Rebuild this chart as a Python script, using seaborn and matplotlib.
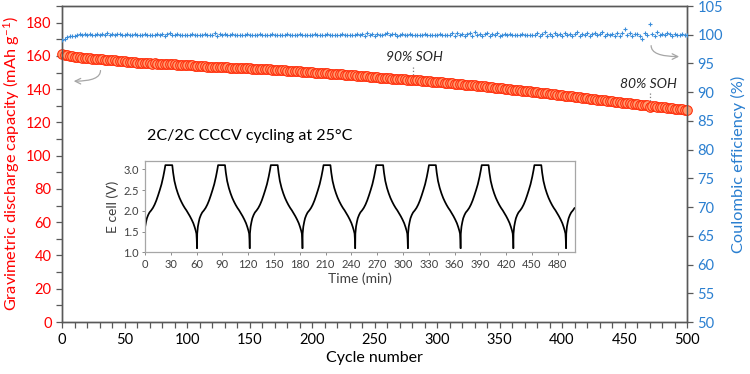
import matplotlib
matplotlib.use("Agg")
import matplotlib.pyplot as plt
from matplotlib.ticker import MultipleLocator, FormatStrFormatter
import seaborn as sns
import pandas as pd

# ---------------- data ----------------
cycles = list(range(0, 501, 2))

capacity = [
    161.0, 160.6, 160.3, 160.0, 159.8, 159.6, 159.3, 159.1, 158.9, 158.8,
    158.6, 158.5, 158.3, 158.2, 158.1, 158.0, 157.9, 157.7, 157.6, 157.5,
    157.4, 157.6, 157.2, 157.0, 156.8, 156.9, 156.5, 156.4, 156.2, 156.1,
    156.0, 155.9, 155.9, 155.7, 155.6, 155.6, 155.4, 155.5, 155.3, 155.3,
    155.3, 155.2, 155.0, 155.1, 154.9, 155.2, 154.8, 154.7, 154.6, 154.5,
    154.4, 154.3, 154.3, 154.1, 154.0, 154.0, 153.8, 153.8, 153.6, 153.6,
    153.5, 153.4, 153.4, 153.3, 153.2, 153.3, 153.1, 153.0, 152.9, 152.9,
    152.8, 152.8, 152.7, 152.6, 152.6, 152.5, 152.4, 152.4, 152.3, 152.2,
    152.1, 152.1, 152.0, 151.9, 151.8, 151.8, 151.6, 151.5, 151.4, 151.3,
    151.2, 151.1, 151.0, 150.9, 150.8, 150.7, 150.6, 150.4, 150.3, 150.2,
    150.1, 150.0, 149.9, 149.8, 149.8, 149.6, 149.5, 149.4, 149.3, 149.2,
    149.1, 149.0, 148.9, 148.8, 148.7, 148.6, 148.5, 148.4, 148.2, 148.1,
    148.0, 147.9, 147.7, 147.6, 147.5, 147.3, 147.2, 147.0, 146.9, 146.7,
    146.6, 146.5, 146.4, 146.2, 146.2, 146.1, 146.0, 145.9, 145.8, 145.7,
    145.6, 145.6, 145.5, 145.3, 145.2, 145.1, 144.9, 144.8, 144.6, 144.5,
    144.3, 144.2, 144.1, 143.9, 143.8, 143.7, 143.5, 143.3, 143.2, 143.0,
    142.9, 142.8, 142.6, 142.5, 142.3, 142.2, 142.0, 141.9, 141.7, 141.6,
    141.4, 141.3, 141.1, 140.9, 140.7, 140.6, 140.4, 140.2, 140.0, 139.8,
    139.6, 139.5, 139.4, 139.2, 139.0, 138.9, 138.7, 138.6, 138.4, 138.3,
    138.1, 137.9, 137.8, 137.6, 137.4, 137.3, 137.0, 136.8, 136.7, 136.5,
    136.3, 136.1, 135.9, 135.8, 135.6, 135.4, 135.2, 135.0, 134.8, 134.6,
    134.4, 134.2, 134.1, 133.9, 133.7, 133.5, 133.3, 133.2, 133.0, 132.8,
    132.6, 132.5, 132.3, 132.1, 131.9, 131.7, 131.6, 131.4, 131.2, 131.0,
    130.8, 130.7, 130.5, 130.3, 130.2, 129.3, 129.8, 129.7, 129.5, 129.3,
    129.1, 129.0, 128.8, 128.6, 128.5, 128.3, 128.1, 128.0, 127.8, 127.7,
    127.5,
]

coulombic_eff = [
    99.05, 99.3, 99.55, 99.7, 99.8, 99.85, 99.9, 100.05, 99.95, 100.1,
    99.9, 100.15, 100.0, 99.95, 100.2, 99.9, 100.05, 100.0, 100.25, 99.95,
    100.1, 99.9, 100.05, 100.2, 99.95, 100.0, 100.1, 99.9, 100.0, 100.05,
    100.0, 99.95, 100.0, 100.05, 99.95, 100.0, 100.0, 99.95, 100.05, 100.0,
    100.2, 99.85, 100.1, 100.25, 99.9, 100.0, 100.05, 99.95, 100.0, 100.0,
    99.95, 100.0, 100.05, 100.0, 99.95, 100.0, 100.0, 100.05, 100.0, 99.95,
    100.0, 100.3, 99.85, 100.1, 99.9, 100.2, 100.0, 99.95, 100.05, 100.0,
    100.0, 99.95, 100.0, 100.0, 100.05, 100.0, 99.95, 100.0, 100.0, 100.05,
    100.0, 100.0, 99.95, 100.0, 100.05, 100.0, 100.0, 99.95, 100.0, 100.0,
    100.05, 100.0, 99.95, 100.0, 100.0, 100.05, 100.0, 100.0, 99.95, 100.0,
    100.0, 100.05, 100.0, 100.0, 99.95, 100.0, 100.05, 100.0, 99.95, 100.0,
    100.0, 100.0, 100.05, 100.0, 100.0, 99.95, 100.0, 100.0, 100.05, 100.0,
    100.1, 99.85, 100.3, 99.95, 100.15, 99.8, 100.2, 100.0, 99.9, 100.1,
    100.25, 99.9, 100.05, 100.15, 99.85, 100.0, 100.1, 100.0, 99.95, 100.05,
    100.0, 100.0, 99.95, 100.0, 100.0, 100.05, 100.0, 99.95, 100.0, 100.0,
    100.0, 100.05, 100.0, 100.0, 99.95, 100.0, 100.25, 99.8, 100.35, 99.9,
    100.2, 99.75, 100.1, 100.3, 99.85, 100.4, 99.9, 100.15, 99.7, 100.05,
    100.25, 99.85, 100.1, 99.95, 100.3, 99.8, 100.0, 100.2, 99.9, 100.05,
    100.0, 100.0, 99.95, 100.0, 100.05, 100.0, 100.0, 99.95, 100.0, 100.0,
    100.3, 99.8, 100.15, 100.4, 99.85, 100.1, 99.7, 100.25, 99.95, 100.2,
    99.8, 100.35, 99.9, 100.1, 99.75, 100.2, 100.45, 99.85, 100.15, 99.9,
    100.3, 99.8, 100.05, 100.25, 99.9, 100.15, 100.5, 99.85, 100.2, 99.95,
    100.1, 99.7, 100.3, 99.85, 100.25, 101.05, 99.9, 100.35, 99.75, 100.1,
    100.2, 99.8, 99.3, 100.3, 99.9, 101.8, 100.1, 99.85, 100.4, 99.95,
    100.15, 99.9, 100.3, 100.05, 99.85, 100.2, 100.0, 99.95, 100.1, 99.9,
    100.0,
]

# inset: one charge/discharge cycle profile (time since cycle start, min; voltage, V)
profile_t = [0.0, 0.2, 1.0, 2.0, 3.0, 4.5, 6.0, 8.0, 10.0, 12.0, 14.0, 16.0,
             18.0, 20.0, 22.0, 23.5, 24.5, 32.5, 33.5, 35.0, 37.0, 39.0,
             41.0, 43.0, 45.0, 47.0, 49.0, 51.0, 53.0, 55.0, 57.0, 58.5,
             59.8, 60.6, 61.0, 61.3]
profile_v = [1.10, 1.45, 1.62, 1.73, 1.82, 1.90, 1.96, 2.01, 2.07, 2.15, 2.25,
             2.37, 2.50, 2.64, 2.82, 2.98, 3.10, 3.10, 2.92, 2.72, 2.55, 2.42,
             2.31, 2.22, 2.14, 2.07, 2.01, 1.94, 1.87, 1.79, 1.70, 1.61, 1.52,
             1.45, 1.30, 1.10]
cycle_starts = [-0.8, 60.5, 121.8, 183.1, 244.4, 305.7, 367.0, 428.3, 489.6]
inset_time_max = 500

left_ticks = list(range(0, 181, 20))
right_ticks = list(range(50, 106, 5))
x_ticks = list(range(0, 501, 50))
inset_xticks = list(range(0, 481, 30))
inset_yticks = [1.0, 1.5, 2.0, 2.5, 3.0]

# ---------------- style ----------------
sns.set_style("white")
plt.rcParams["font.family"] = ["Lato", "DejaVu Sans"]
plt.rcParams["mathtext.fontset"] = "custom"
plt.rcParams["mathtext.rm"] = "Lato"
plt.rcParams["mathtext.it"] = "Lato:italic"
RED = "#FF0000"
BLUE = "#2A7FD0"
GRAY = "#7F7F7F"
SPINE = "#595959"

fig = plt.figure(figsize=(7.5, 3.74), dpi=100)
ax = fig.add_axes([62 / 750, (374 - 322) / 374, (687 - 62) / 750, (322 - 6) / 374])
ax2 = ax.twinx()

cap_df = pd.DataFrame({"cycle": cycles, "cap": capacity})
ce_df = pd.DataFrame({"cycle": cycles, "ce": coulombic_eff})

sns.scatterplot(data=ce_df, x="cycle", y="ce", ax=ax2, marker="+", s=9,
                color="#3A8DDA", linewidth=0.8, zorder=3)
sns.scatterplot(data=cap_df, x="cycle", y="cap", ax=ax, marker="o", s=48,
                facecolor="#FF9A6E", edgecolor="#FF2A08", linewidth=0.75,
                zorder=3, clip_on=False)

ax.set_xlim(0, 500)
ax.set_ylim(0, 190)
ax2.set_ylim(50, 105)
ax.set_xticks(x_ticks)
ax.set_yticks(left_ticks)
ax2.set_yticks(right_ticks)
ax.xaxis.set_minor_locator(MultipleLocator(10))
ax.yaxis.set_minor_locator(MultipleLocator(10))

for a in (ax, ax2):
    for s in a.spines.values():
        s.set_color(SPINE)
        s.set_linewidth(1.0)

ax.tick_params(axis="x", which="both", direction="out", length=4, width=0.9,
               color=SPINE, labelsize=10.5, labelcolor="black", bottom=True, pad=4)
ax.tick_params(axis="y", which="both", direction="out", length=4, width=0.9,
               color=SPINE, labelsize=10.5, labelcolor=RED, left=True)
ax2.tick_params(axis="y", which="both", direction="out", length=4, width=0.9,
                color=SPINE, labelsize=10.5, labelcolor=BLUE, right=True)

ax.set_xlabel("Cycle number", fontsize=11.5, color="black", labelpad=3)
ax.set_ylabel("Gravimetric discharge capacity (mAh g$^{-1}$)", fontsize=11.8,
              color=RED, labelpad=3)
ax2.set_ylabel("Coulombic efficiency (%)", fontsize=11.8, color=BLUE, labelpad=6)

# annotations
ax.text(282, 159.2, "90% SOH", fontsize=10, style="italic", color="#262626",
        ha="center", va="center")
ax.plot([281, 281], [153.2, 148.4], ls=":", color=GRAY, lw=0.9)
ax.text(469, 143.2, "80% SOH", fontsize=10, style="italic", color="#262626",
        ha="center", va="center")
ax.plot([470, 470], [137.4, 131.4], ls=":", color=GRAY, lw=0.9)

ax.annotate("", xy=(9.4, 144.8), xytext=(30.8, 151.2),
            arrowprops=dict(arrowstyle="->", color="#A6A6A6", lw=0.9,
                            shrinkA=0, shrinkB=0,
                            connectionstyle="angle3,angleA=90,angleB=0"))
ax2.annotate("", xy=(493.7, 96.2), xytext=(471.3, 98.1),
             arrowprops=dict(arrowstyle="->", color="#A6A6A6", lw=0.9,
                             shrinkA=0, shrinkB=0,
                             connectionstyle="angle3,angleA=90,angleB=0"))

ax.text(68, 111.8, "2C/2C CCCV cycling at 25\u00b0C", fontsize=11.5, color="black",
        ha="left", va="center")

# ---------------- inset ----------------
ins = fig.add_axes([145 / 750, (374 - 252.3) / 374, (575 - 145) / 750, (252.3 - 161) / 374])
rows = []
for k, st in enumerate(cycle_starts):
    for tt, vv in zip(profile_t, profile_v):
        t = st + tt
        if 0 <= t <= inset_time_max:
            rows.append({"t": t, "v": vv, "cyc": k})
ins_df = pd.DataFrame(rows)
sns.lineplot(data=ins_df, x="t", y="v", units="cyc", estimator=None, sort=False,
             ax=ins, color="black", lw=1.25)
ins.set_xlim(0, inset_time_max)
ins.set_ylim(1.0, 3.2)
ins.set_xticks(inset_xticks)
ins.set_yticks(inset_yticks)
ins.yaxis.set_major_formatter(FormatStrFormatter("%.1f"))
ins.xaxis.set_minor_locator(MultipleLocator(10))
ins.yaxis.set_minor_locator(MultipleLocator(0.1))
for s in ins.spines.values():
    s.set_color("#A6A6A6")
    s.set_linewidth(0.9)
ins.tick_params(axis="both", which="both", direction="out", length=2.5, width=0.7,
                color="#8C8C8C", labelsize=8, labelcolor="#404040", pad=2)
ins.tick_params(axis="x", bottom=True)
ins.tick_params(axis="y", left=True)
ins.set_xlabel("Time (min)", fontsize=10, color="#404040", labelpad=2)
ins.set_ylabel("E cell (V)", fontsize=10, color="#404040", labelpad=3)

fig.savefig("out.png", dpi=100)
